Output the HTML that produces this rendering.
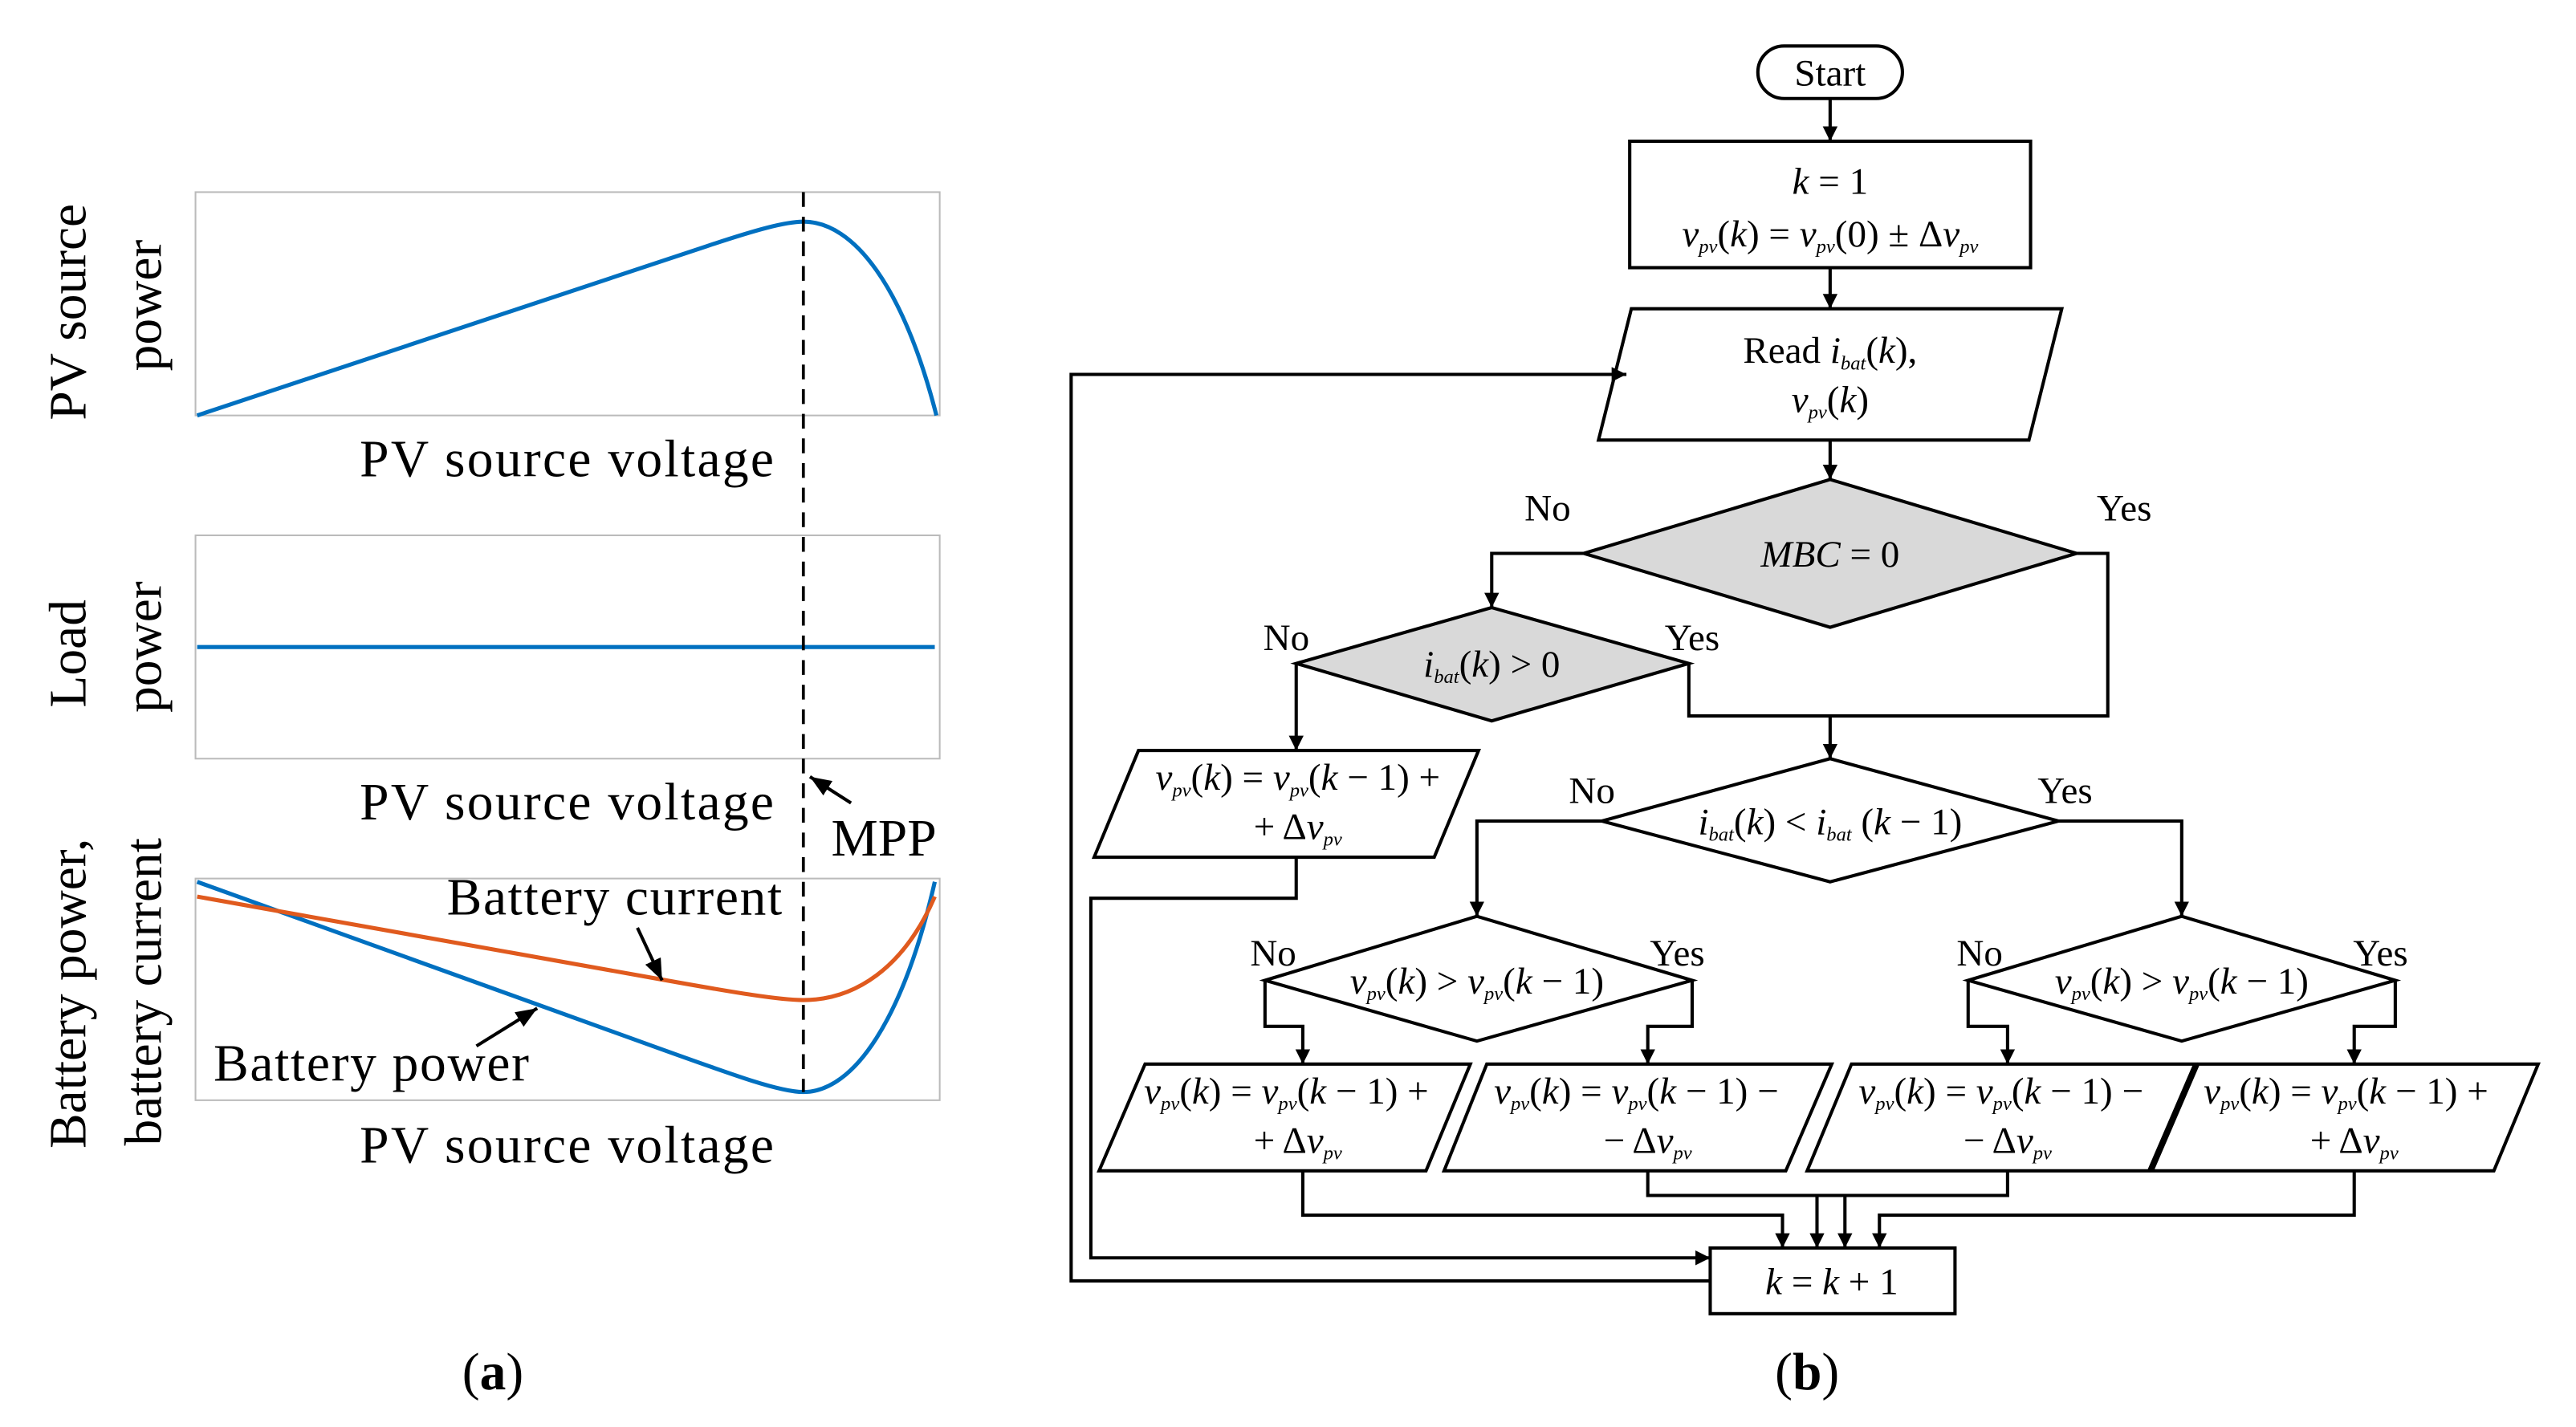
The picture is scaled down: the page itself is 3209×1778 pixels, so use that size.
<!DOCTYPE html>
<html><head><meta charset="utf-8"><style>html,body{margin:0;padding:0;background:#fff}svg{display:block}</style></head>
<body>
<svg width="3209" height="1778" viewBox="0 0 1568 869" preserveAspectRatio="none" xmlns="http://www.w3.org/2000/svg" font-family="Liberation Serif, serif">
<defs>
<marker id="ar" viewBox="0 0 10 10" refX="10" refY="5" markerWidth="9" markerHeight="9" orient="auto" markerUnits="userSpaceOnUse"><path d="M0,0 L10,5 L0,10 z" fill="#000"/></marker>
<marker id="ar2" viewBox="0 0 10 10" refX="10" refY="5" markerWidth="13" markerHeight="13" orient="auto" markerUnits="userSpaceOnUse"><path d="M0,1 L10,5 L0,9 z" fill="#000"/></marker>
</defs>
<rect width="1568" height="869" fill="#fff"/>
<g fill="none" stroke="#bbb" stroke-width="1">
<rect x="119" y="117" width="453" height="136"/>
<rect x="119" y="326" width="453" height="136"/>
<rect x="119" y="535" width="453" height="135"/>
</g>
<g fill="none" stroke-width="2.5">
<path d="M120,253 L430,150 C460,140 478,135 489,135 C520,135 550,175 570,253" stroke="#0070c0"/>
<path d="M120,394 L569,394" stroke="#0070c0"/>
<path d="M120,537 L400,638 C450,656 475,665 489,665 C520,665 550,620 569,537" stroke="#0070c0"/>
<path d="M120,546 L400,596 C450,605 475,609 489,609 C520,609 550,590 569,546" stroke="#e05a1e"/>
</g>
<line x1="489" y1="117" x2="489" y2="665" stroke="#000" stroke-width="1.8" stroke-dasharray="9,6"/>
<g stroke="#000" stroke-width="2" fill="none">
<line x1="518" y1="489" x2="493" y2="473" marker-end="url(#ar2)"/>
<line x1="388" y1="565" x2="403" y2="597" marker-end="url(#ar2)"/>
<line x1="290" y1="637" x2="327" y2="614" marker-end="url(#ar2)"/>
</g>
<g font-size="32" fill="#000">
<text x="345" y="290" text-anchor="middle" textLength="252">PV source voltage</text>
<text x="345" y="499" text-anchor="middle" textLength="252">PV source voltage</text>
<text x="345" y="708" text-anchor="middle" textLength="252">PV source voltage</text>
<text x="506" y="521">MPP</text>
<text x="272" y="557" textLength="204">Battery current</text>
<text x="130" y="658" textLength="192">Battery power</text>
<text transform="translate(52,190) rotate(-90)" text-anchor="middle">PV source</text>
<text transform="translate(98,186) rotate(-90)" text-anchor="middle">power</text>
<text transform="translate(52,398) rotate(-90)" text-anchor="middle">Load</text>
<text transform="translate(98,394) rotate(-90)" text-anchor="middle">power</text>
<text transform="translate(52,605) rotate(-90)" text-anchor="middle">Battery power,</text>
<text transform="translate(98,604) rotate(-90)" text-anchor="middle">battery current</text>
<text x="300" y="846" text-anchor="middle">(<tspan font-weight="bold">a</tspan>)</text>
<text x="1100" y="846" text-anchor="middle">(<tspan font-weight="bold">b</tspan>)</text>
</g>
<g stroke="#000" stroke-width="2" fill="#fff">
<rect x="1070" y="28" width="88" height="32" rx="16"/>
<rect x="992" y="86" width="244" height="77"/>
<path d="M993,188 L1255,188 L1235,268 L973,268 z"/>
<path d="M1114,292 L1264,337 L1114,382 L964,337 z" fill="#d9d9d9"/>
<path d="M908,370 L1028,404 L908,439 L789,404 z" fill="#d9d9d9"/>
<path d="M1114,462 L1253,500 L1114,537 L975,500 z"/>
<path d="M693,457 L900,457 L873,522 L666,522 z"/>
<path d="M899,558 L1030,597 L899,634 L770,597 z"/>
<path d="M1328,558 L1458,597 L1328,634 L1198,597 z"/>
<path d="M697,648 L895,648 L868,713 L669,713 z"/>
<path d="M905,648 L1115,648 L1087,713 L879,713 z"/>
<path d="M1127,648 L1336,648 L1308,713 L1100,713 z"/>
<path d="M1338,648 L1545,648 L1518,713 L1310,713 z"/>
<rect x="1041" y="760" width="149" height="40"/>
</g>
<g stroke="#000" stroke-width="2" fill="none">
<line x1="1114" y1="60" x2="1114" y2="86" marker-end="url(#ar)"/>
<line x1="1114" y1="163" x2="1114" y2="188" marker-end="url(#ar)"/>
<line x1="1114" y1="268" x2="1114" y2="292" marker-end="url(#ar)"/>
<path d="M964,337 L908,337 L908,370" marker-end="url(#ar)"/>
<path d="M1264,337 L1283,337 L1283,436 L1028,436 L1028,404"/>
<line x1="1114" y1="436" x2="1114" y2="462" marker-end="url(#ar)"/>
<path d="M789,404 L789,457" marker-end="url(#ar)"/>
<path d="M789,522 L789,547 L664,547 L664,766 L1041,766" marker-end="url(#ar)"/>
<path d="M975,500 L899,500 L899,558" marker-end="url(#ar)"/>
<path d="M1253,500 L1328,500 L1328,558" marker-end="url(#ar)"/>
<path d="M770,597 L770,625 L793,625 L793,648" marker-end="url(#ar)"/>
<path d="M1030,597 L1030,625 L1003,625 L1003,648" marker-end="url(#ar)"/>
<path d="M1198,597 L1198,625 L1222,625 L1222,648" marker-end="url(#ar)"/>
<path d="M1458,597 L1458,625 L1433,625 L1433,648" marker-end="url(#ar)"/>
<path d="M793,713 L793,740 L1085,740 L1085,760" marker-end="url(#ar)"/>
<path d="M1003,713 L1003,728 L1222,728 L1222,713"/>
<line x1="1106" y1="728" x2="1106" y2="760" marker-end="url(#ar)"/>
<line x1="1123" y1="728" x2="1123" y2="760" marker-end="url(#ar)"/>
<path d="M1433,713 L1433,740 L1144,740 L1144,760" marker-end="url(#ar)"/>
<path d="M1041,780 L652,780 L652,228 L990,228" marker-end="url(#ar)"/>
</g>
<g font-size="23" fill="#000" text-anchor="middle">
<text x="1114" y="118"><tspan font-style="italic">k</tspan> = 1</text>
<text x="1114" y="52">Start</text>
<text x="1114" y="150"><tspan font-style="italic">v</tspan><tspan font-size="12" font-style="italic" dy="4">pv</tspan><tspan dy="-4">(</tspan><tspan font-style="italic">k</tspan>) = <tspan font-style="italic">v</tspan><tspan font-size="12" font-style="italic" dy="4">pv</tspan><tspan dy="-4">(0) ± Δ</tspan><tspan font-style="italic">v</tspan><tspan font-size="12" font-style="italic" dy="4">pv</tspan></text>
<text x="1114" y="221">Read <tspan font-style="italic">i</tspan><tspan font-size="12" font-style="italic" dy="4">bat</tspan><tspan dy="-4">(</tspan><tspan font-style="italic">k</tspan>),</text>
<text x="1114" y="251"><tspan font-style="italic">v</tspan><tspan font-size="12" font-style="italic" dy="4">pv</tspan><tspan dy="-4">(</tspan><tspan font-style="italic">k</tspan>)</text>
<text x="1114" y="345"><tspan font-style="italic">MBC</tspan> = 0</text>
<text x="908" y="412"><tspan font-style="italic">i</tspan><tspan font-size="12" font-style="italic" dy="4">bat</tspan><tspan dy="-4">(</tspan><tspan font-style="italic">k</tspan>) &gt; 0</text>
<text x="1114" y="508"><tspan font-style="italic">i</tspan><tspan font-size="12" font-style="italic" dy="4">bat</tspan><tspan dy="-4">(</tspan><tspan font-style="italic">k</tspan>) &lt; <tspan font-style="italic">i</tspan><tspan font-size="12" font-style="italic" dy="4">bat</tspan><tspan dy="-4"> (</tspan><tspan font-style="italic">k</tspan> − 1)</text>
<text x="899" y="605"><tspan font-style="italic">v</tspan><tspan font-size="12" font-style="italic" dy="4">pv</tspan><tspan dy="-4">(</tspan><tspan font-style="italic">k</tspan>) &gt; <tspan font-style="italic">v</tspan><tspan font-size="12" font-style="italic" dy="4">pv</tspan><tspan dy="-4">(</tspan><tspan font-style="italic">k</tspan> − 1)</text>
<text x="1328" y="605"><tspan font-style="italic">v</tspan><tspan font-size="12" font-style="italic" dy="4">pv</tspan><tspan dy="-4">(</tspan><tspan font-style="italic">k</tspan>) &gt; <tspan font-style="italic">v</tspan><tspan font-size="12" font-style="italic" dy="4">pv</tspan><tspan dy="-4">(</tspan><tspan font-style="italic">k</tspan> − 1)</text>
<text x="790" y="481"><tspan font-style="italic">v</tspan><tspan font-size="12" font-style="italic" dy="4">pv</tspan><tspan dy="-4">(</tspan><tspan font-style="italic">k</tspan>) = <tspan font-style="italic">v</tspan><tspan font-size="12" font-style="italic" dy="4">pv</tspan><tspan dy="-4">(</tspan><tspan font-style="italic">k</tspan> − 1) +</text>
<text x="790" y="511">+ Δ<tspan font-style="italic">v</tspan><tspan font-size="12" font-style="italic" dy="4">pv</tspan></text>
<text x="783" y="672"><tspan font-style="italic">v</tspan><tspan font-size="12" font-style="italic" dy="4">pv</tspan><tspan dy="-4">(</tspan><tspan font-style="italic">k</tspan>) = <tspan font-style="italic">v</tspan><tspan font-size="12" font-style="italic" dy="4">pv</tspan><tspan dy="-4">(</tspan><tspan font-style="italic">k</tspan> − 1) +</text>
<text x="790" y="702">+ Δ<tspan font-style="italic">v</tspan><tspan font-size="12" font-style="italic" dy="4">pv</tspan></text>
<text x="996" y="672"><tspan font-style="italic">v</tspan><tspan font-size="12" font-style="italic" dy="4">pv</tspan><tspan dy="-4">(</tspan><tspan font-style="italic">k</tspan>) = <tspan font-style="italic">v</tspan><tspan font-size="12" font-style="italic" dy="4">pv</tspan><tspan dy="-4">(</tspan><tspan font-style="italic">k</tspan> − 1) −</text>
<text x="1003" y="702">− Δ<tspan font-style="italic">v</tspan><tspan font-size="12" font-style="italic" dy="4">pv</tspan></text>
<text x="1218" y="672"><tspan font-style="italic">v</tspan><tspan font-size="12" font-style="italic" dy="4">pv</tspan><tspan dy="-4">(</tspan><tspan font-style="italic">k</tspan>) = <tspan font-style="italic">v</tspan><tspan font-size="12" font-style="italic" dy="4">pv</tspan><tspan dy="-4">(</tspan><tspan font-style="italic">k</tspan> − 1) −</text>
<text x="1222" y="702">− Δ<tspan font-style="italic">v</tspan><tspan font-size="12" font-style="italic" dy="4">pv</tspan></text>
<text x="1428" y="672"><tspan font-style="italic">v</tspan><tspan font-size="12" font-style="italic" dy="4">pv</tspan><tspan dy="-4">(</tspan><tspan font-style="italic">k</tspan>) = <tspan font-style="italic">v</tspan><tspan font-size="12" font-style="italic" dy="4">pv</tspan><tspan dy="-4">(</tspan><tspan font-style="italic">k</tspan> − 1) +</text>
<text x="1433" y="702">+ Δ<tspan font-style="italic">v</tspan><tspan font-size="12" font-style="italic" dy="4">pv</tspan></text>
<text x="1115" y="788"><tspan font-style="italic">k</tspan> = <tspan font-style="italic">k</tspan> + 1</text>
<text x="942" y="317">No</text>
<text x="1293" y="317">Yes</text>
<text x="783" y="396">No</text>
<text x="1030" y="396">Yes</text>
<text x="969" y="489">No</text>
<text x="1257" y="489">Yes</text>
<text x="775" y="588">No</text>
<text x="1021" y="588">Yes</text>
<text x="1205" y="588">No</text>
<text x="1449" y="588">Yes</text>
</g>
</svg>
</body></html>
